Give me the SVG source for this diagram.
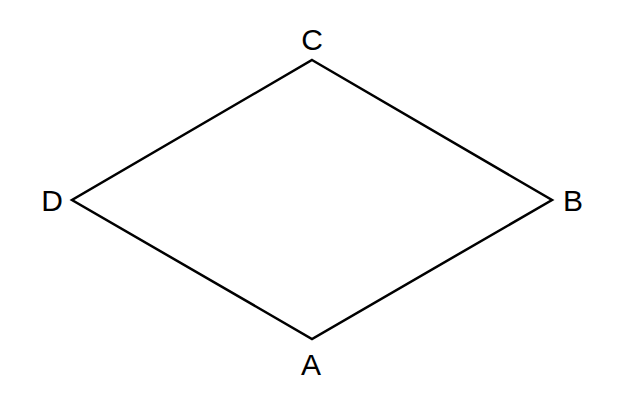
<svg xmlns="http://www.w3.org/2000/svg" width="644" height="402" viewBox="0 0 644 402">
<style>
.lbl{font-family:"Liberation Sans",Arial,sans-serif;font-size:30px;fill:#000;text-anchor:middle}
.edge{fill:none;stroke:#000;stroke-width:2.5;stroke-linejoin:miter}
</style>
<rect width="644" height="402" fill="#fff"/>
<g id="connectors">
<polygon class="edge" points="312,60 552,200 312,339 72,200"/>
</g>
<g id="node-C"><text class="lbl" x="312" y="50">C</text></g>
<g id="node-B"><text class="lbl" x="573" y="211">B</text></g>
<g id="node-A"><text class="lbl" x="311" y="375">A</text></g>
<g id="node-D"><text class="lbl" x="52" y="211">D</text></g>
</svg>
